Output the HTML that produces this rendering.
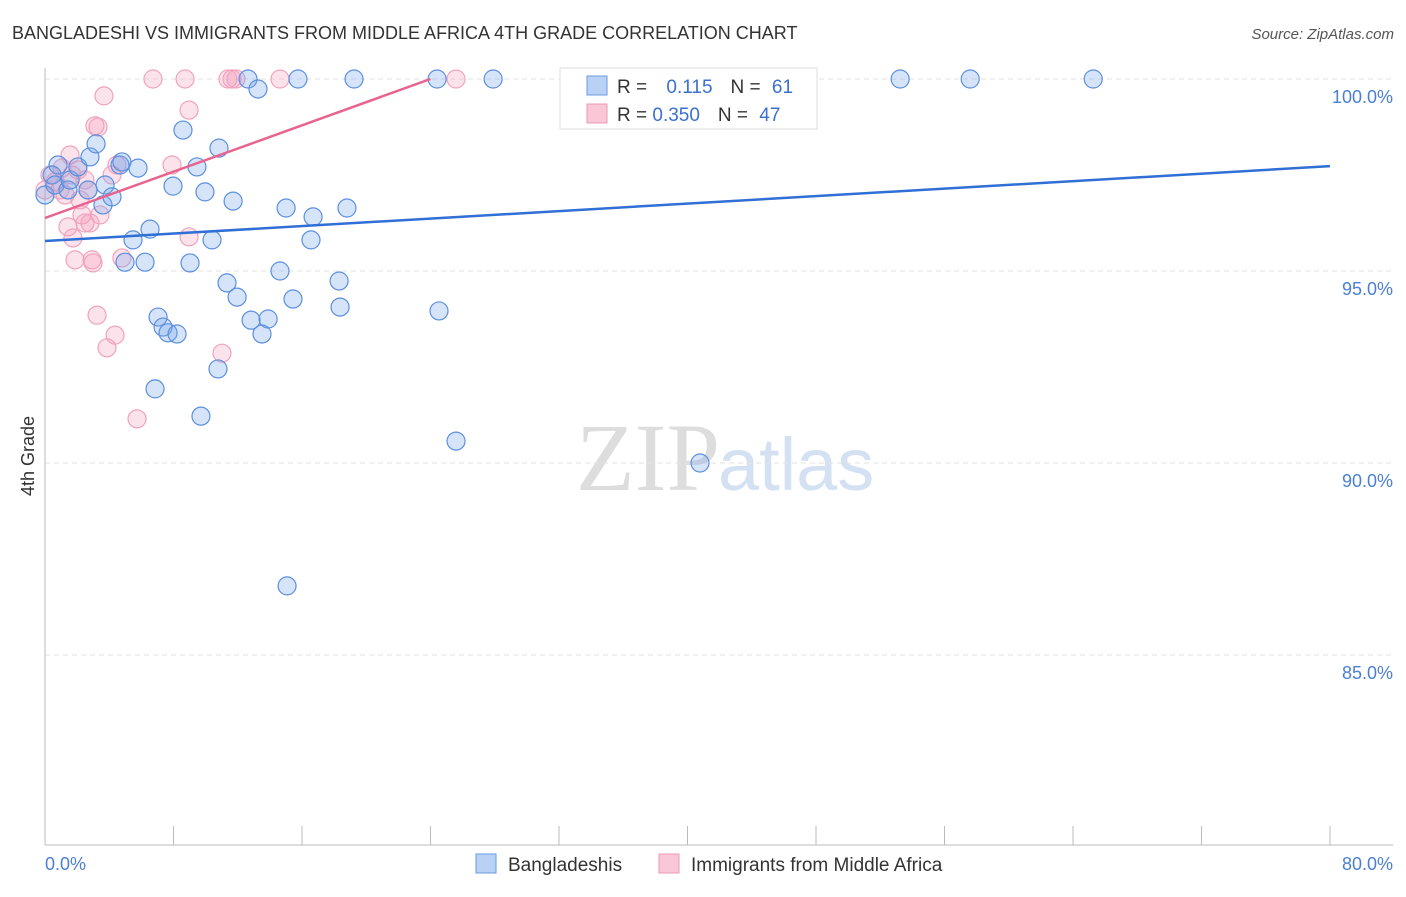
<!DOCTYPE html>
<html><head><meta charset="utf-8"><style>
body{margin:0;background:#fff;font-family:"Liberation Sans",sans-serif;}
</style></head><body>
<svg width="1406" height="892" xmlns="http://www.w3.org/2000/svg" style="font-family:'Liberation Sans',sans-serif">
<text x="12" y="39" font-size="18" fill="#333">BANGLADESHI VS IMMIGRANTS FROM MIDDLE AFRICA 4TH GRADE CORRELATION CHART</text>
<text x="1394" y="39" font-size="15" fill="#555" text-anchor="end" font-style="italic">Source: ZipAtlas.com</text>
<text x="720" y="490" font-size="96" fill="#ddd" text-anchor="end" font-family="Liberation Serif">ZIP</text>
<text x="718" y="490" font-size="74" fill="#d3e1f3">atlas</text>
<g id="grid"></g>
<line x1="45" y1="68" x2="45" y2="845" stroke="#bbb"/>
<line x1="45" y1="845" x2="1393" y2="845" stroke="#bbb"/>
<g id="xticks"></g>
<text x="34" y="456" font-size="18" fill="#333" text-anchor="middle" transform="rotate(-90 34 456)">4th Grade</text>
<text x="45" y="870" font-size="18" fill="#4a7fd4">0.0%</text>
<text x="1393" y="870" font-size="18" fill="#4a7fd4" text-anchor="end">80.0%</text>
<g id="pts"></g>
<g id="lines"></g>
<g>
<rect x="560" y="68" width="257" height="61" fill="#fff" stroke="#ddd"/>
<rect x="587" y="76" width="20" height="19" fill="#b9d1f4" stroke="#6a9ae0"/>
<rect x="587" y="104" width="20" height="19" fill="#f9c7d6" stroke="#ee9ab6"/>
<text x="617" y="93" font-size="19" fill="#333">R = <tspan fill="#3a70d0" dx="14">0.115</tspan><tspan dx="18">N = </tspan><tspan fill="#3a70d0" dx="6">61</tspan></text>
<text x="617" y="121" font-size="19" fill="#333">R = <tspan fill="#3a70d0">0.350</tspan><tspan dx="18">N = </tspan><tspan fill="#3a70d0" dx="6">47</tspan></text>
</g>
<g>
<rect x="476" y="854" width="20" height="19" fill="#b9d1f4" stroke="#6a9ae0"/>
<text x="508" y="871" font-size="19" fill="#333">Bangladeshis</text></g>
<g>
<rect x="659" y="854" width="20" height="19" fill="#f9c7d6" stroke="#ee9ab6"/>
<text x="691" y="871" font-size="19" fill="#333">Immigrants from Middle Africa</text></g>
</svg>
<script>
const yTicks=[100,95,90,85];
const xTickVals=[0,8,16,24,32,40,48,56,64,72,80];
const blueX=[0,0.81,0.44,0.62,1.43,1.56,2.68,2.05,2.8,3.18,3.61,3.74,4.17,4.67,4.79,5.79,5.48,4.98,6.23,6.54,7.04,7.35,7.66,8.22,6.85,7.97,8.59,9.03,9.46,9.96,9.71,10.4,10.83,10.77,11.33,11.71,11.96,12.64,13.26,12.83,13.51,13.89,14.63,15.01,15.07,15.44,15.75,16.56,16.69,18.31,18.37,18.8,19.24,24.41,24.53,25.59,27.9,40.78,53.24,57.6,65.26];
const blueY=[96.98,97.76,97.5,97.24,97.11,97.37,97.11,97.71,97.97,98.31,96.72,97.24,96.93,97.76,97.84,97.68,95.81,95.23,95.23,96.09,93.8,93.54,93.39,93.36,91.93,97.21,98.67,95.21,97.71,97.06,91.22,95.81,98.2,92.45,94.69,96.82,94.32,100,99.74,93.72,93.36,93.75,95,96.64,86.8,94.27,100,95.81,96.41,94.74,94.06,96.64,100,100,93.96,90.57,100,90,100,100,100];
const pinkX=[0,0.31,0.62,0.93,1.25,1.06,1.56,1.43,1.74,1.87,2.05,2.49,2.3,2.49,2.8,2.93,2.99,3.24,3.11,3.3,3.42,3.67,3.86,4.17,4.36,4.48,4.79,5.73,6.72,7.91,8.72,8.97,8.97,11.02,11.39,11.64,11.89,14.63,25.59,1.68,2.18,2.68];
const pinkY=[97.11,97.5,97.32,97.11,96.98,97.68,98.02,96.15,95.86,95.29,97.63,97.37,96.46,96.25,96.25,95.29,95.21,93.85,98.78,98.75,96.46,99.56,93,97.5,93.33,97.76,95.34,91.15,100,97.76,100,95.89,99.19,92.86,100,100,100,100,100,97.5,96.85,97.11];
const blueTrend=[[0,95.78],[80,97.73]];
const pinkTrend=[[0,96.38],[24,100]];
const NS="http://www.w3.org/2000/svg";
const sx=v=>45+v*16.0625, sy=v=>79+(100-v)*38.4;
function mk(tag,attrs,parent){const e=document.createElementNS(NS,tag);for(const k in attrs)e.setAttribute(k,attrs[k]);document.getElementById(parent).appendChild(e);return e;}
yTicks.forEach(t=>{
 const l=mk('line',{x1:45,x2:1393,y1:sy(t),y2:sy(t),stroke:'#e2e2e2','stroke-dasharray':'5,4'},'grid');
 
 
 const tx=mk('text',{x:1393,y:sy(t)+24,'font-size':18,fill:'#4a7fd4','text-anchor':'end'},'grid');
 tx.textContent=t.toFixed(1)+'%';
 
 
});
xTickVals.forEach(t=>{
 const l=mk('line',{x1:sx(t),x2:sx(t),y1:826,y2:845,stroke:'#bbb'},'xticks');
 
 
});
function pts(X,Y,fill,stroke,name){X.forEach((x,i)=>{
 const c=mk('circle',{cx:sx(x),cy:sy(Y[i]),r:9,fill:fill,stroke:stroke,'stroke-width':1.2},'pts');
 
 
});}
pts(pinkX,pinkY,'rgba(244,160,190,0.3)','#f0a3be','point-middle-africa');
pts(blueX,blueY,'rgba(120,165,235,0.3)','#5b8fdf','point-bangladeshi');
const bl=mk('line',{x1:sx(blueTrend[0][0]),y1:sy(blueTrend[0][1]),x2:sx(blueTrend[1][0]),y2:sy(blueTrend[1][1]),stroke:'#2f6fd6','stroke-width':2.5},'lines');


const pl=mk('line',{x1:sx(pinkTrend[0][0]),y1:sy(pinkTrend[0][1]),x2:sx(pinkTrend[1][0]),y2:sy(pinkTrend[1][1]),stroke:'#e8648e','stroke-width':2.5},'lines');


</script>
</body></html>
